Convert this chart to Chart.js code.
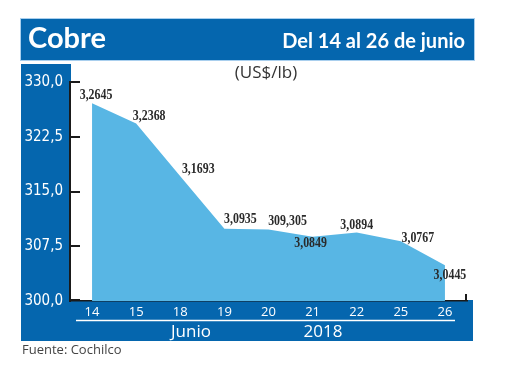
<!DOCTYPE html>
<html><head><meta charset="utf-8">
<script src="https://cdn.jsdelivr.net/npm/chart.js@4/dist/chart.umd.min.js"></script>
<style>
html,body{margin:0;padding:0;background:#fff;}
#wrap{position:relative;width:520px;height:390px;}
canvas{display:block;}
</style></head>
<body><div id="wrap"><canvas id="c" width="520" height="390"></canvas></div>
<script>
// ---- data ----
const categories = ['14','15','18','19','20','21','22','25','26'];
const prices = [327.1, 324.3, 317.1, 309.9, 309.8, 308.8, 309.4, 308.2, 304.9];
const valueLabels = ['3,2645','3,2368','3,1693','3,0935','309,305','3,0849','3,0894','3,0767','3,0445'];
const yTicks = [300, 307.5, 315, 322.5, 330];
const title = 'Cobre';
const subtitle = 'Del 14 al 26 de junio';
const unitLabel = '(US$/lb)';
const groupLabels = ['Junio', '2018'];
const source = 'Fuente: Cochilco';

// ---- styles / label placement (not data) ----
const labelOffsets = [[4,-8],[13,-7],[18,-7],[16,-9],[19,-8],[-2,7],[0,-7],[17,-3],[5,10]];
const BLUE = '#0566AE';
const FILL = '#58B6E4';

const deco = {
  id: 'deco',
  beforeDraw(chart) {
    const ctx = chart.ctx;
    ctx.save();
    ctx.fillStyle = BLUE;
    ctx.fillRect(21, 19, 453, 41);
    ctx.strokeStyle = '#a9cfee';
    ctx.lineWidth = 1;
    ctx.strokeRect(20.5, 18.5, 454, 42);
    ctx.fillStyle = BLUE;
    ctx.fillRect(21, 64, 50, 277);
    ctx.fillRect(21, 300, 452, 41);
    ctx.fillStyle = '#fff';
    ctx.textBaseline = 'alphabetic';
    ctx.font = 'bold 29px Lato';
    ctx.textAlign = 'left';
    ctx.fillText(title, 28, 48);
    ctx.font = 'bold 20px Lato';
    ctx.textAlign = 'right';
    ctx.fillText(subtitle, 465, 48);
    ctx.fillStyle = '#333';
    ctx.font = '17px "Open Sans"';
    ctx.textAlign = 'center';
    ctx.fillText(unitLabel, 266, 78);
    ctx.strokeStyle = '#fff';
    ctx.lineWidth = 1.5;
    ctx.beginPath(); ctx.moveTo(76, 320.5); ctx.lineTo(455, 320.5); ctx.stroke();
    ctx.fillStyle = '#fff';
    ctx.font = '17px "Open Sans"';
    ctx.fillText(groupLabels[0], 191, 337);
    ctx.fillText(groupLabels[1], 323, 337);
    ctx.fillStyle = '#444';
    ctx.font = '13px "Open Sans"';
    ctx.textAlign = 'left';
    ctx.fillText(source, 22, 354);
    ctx.restore();
  },
  afterDatasetsDraw(chart) {
    const ctx = chart.ctx;
    const ys = chart.scales.y;
    const area = chart.chartArea;
    ctx.save();
    ctx.strokeStyle = '#1a1a1a';
    ctx.lineWidth = 2;
    yTicks.forEach(v => {
      const py = Math.round(ys.getPixelForValue(v)) - (v === yTicks[0] ? 1 : 0);
      ctx.beginPath(); ctx.moveTo(area.left, py); ctx.lineTo(area.left + 10, py); ctx.stroke();
    });
    ctx.beginPath(); ctx.moveTo(area.right - 1, area.bottom - 1); ctx.lineTo(area.right - 1, area.bottom - 7); ctx.stroke();
    const meta = chart.getDatasetMeta(0);
    ctx.fillStyle = '#2a2a2a';
    ctx.font = 'bold 14px "Liberation Serif"';
    ctx.textAlign = 'center';
    ctx.textBaseline = 'middle';
    meta.data.forEach((pt, i) => {
      const [dx, dy] = labelOffsets[i];
      ctx.save();
      ctx.translate(pt.x + dx, pt.y + dy);
      ctx.scale(0.85, 1);
      ctx.fillText(valueLabels[i], 0, 0);
      ctx.restore();
    });
    ctx.restore();
  }
};

new Chart(document.getElementById('c'), {
  type: 'line',
  data: {
    labels: categories,
    datasets: [{
      data: prices,
      fill: 'start',
      backgroundColor: FILL,
      borderWidth: 0,
      borderColor: FILL,
      pointRadius: 0,
      tension: 0
    }]
  },
  options: {
    responsive: false,
    animation: false,
    devicePixelRatio: 1,
    layout: { padding: { left: 21, right: 53, top: 82, bottom: 0 } },
    plugins: { legend: { display: false }, tooltip: { enabled: false }, title: { display: false } },
    scales: {
      x: {
        offset: true,
        grid: { display: false, drawTicks: false },
        border: { display: true, color: '#1a1a1a', width: 1.5 },
        ticks: { color: '#fff', font: { family: '"Open Sans"', size: 13 }, padding: 3, maxRotation: 0, autoSkip: false },
        afterFit(s) { s.height = 89; }
      },
      y: {
        min: 300, max: 330,
        grid: { display: false, drawTicks: false },
        border: { display: true, color: '#1a1a1a', width: 2 },
        afterBuildTicks(s) { s.ticks = yTicks.map(v => ({ value: v })); },
        ticks: {
          color: '#fff',
          font: { family: '"DejaVu Sans Condensed", "Open Sans"', size: 15 },
          padding: 7,
          callback: v => v.toFixed(1).replace('.', ',')
        },
        afterFit(s) { s.width = 49; }
      }
    }
  },
  plugins: [deco]
});
</script></body></html>
